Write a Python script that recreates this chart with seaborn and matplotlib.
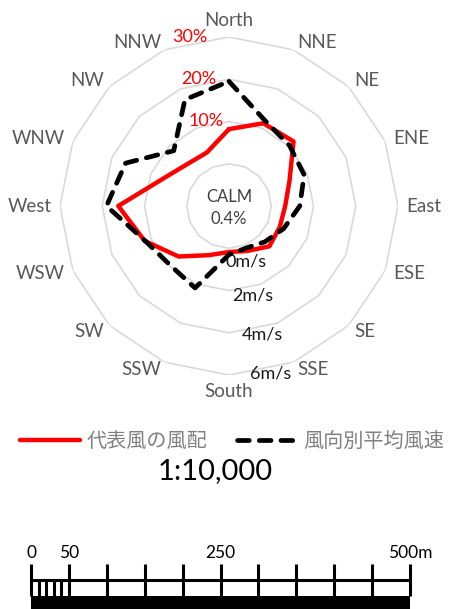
import numpy as np
import pandas as pd
import matplotlib
matplotlib.use("Agg")
import matplotlib.pyplot as plt
import matplotlib.transforms as mtransforms
import seaborn as sns

# wind rose data (16 directions, clockwise from north)
directions = ['North', 'NNE', 'NE', 'ENE', 'East', 'ESE', 'SE', 'SSE',
              'South', 'SSW', 'SW', 'WSW', 'West', 'WNW', 'NW', 'NNW']
freq_pct = [8.2, 11.2, 11.6, 5.5, 3.3, 3.0, 3.5, 1.5,
            0.9, 2.6, 6.9, 11.6, 16.2, 6.9, 4.0, 3.7]
speed_ms = [3.9, 2.4, 2.05, 1.85, 1.35, 0.8, 0.4, 0.15,
            0.3, 2.2, 1.95, 2.3, 3.8, 3.3, 1.7, 3.45]
pct_ticks = [10, 20, 30]
pct_labels = ['10%', '20%', '30%']
speed_ticks = [0, 2, 4, 6]
speed_labels = ['0m/s', '2m/s', '4m/s', '6m/s']
calm_pct = 0.4
legend_labels = ['代表風の風配', '風向別平均風速']
scale_text = '1:10,000'
scale_major = [0, 50, 100, 150, 200, 250, 300, 350, 400, 450, 500]
scale_minor = [10, 20, 30, 40]
scale_label_pos = [0, 50, 250, 500]
scale_label_txt = ['0', '50', '250', '500m']

sns.set_theme(style='white')
plt.rcParams['font.family'] = ['Lato', 'Noto Sans CJK JP', 'DejaVu Sans']

W, H = 451, 609
fig = plt.figure(figsize=(W / 100, H / 100), dpi=100)
fig.patch.set_facecolor('white')

cx, cy, R = 229, 206, 169
ax = fig.add_axes([(cx - R) / W, (H - cy - R) / H, 2 * R / W, 2 * R / H], projection='polar')
ax.set_theta_zero_location('N')
ax.set_theta_direction(-1)
ax.set_ylim(-10, 30)
ax.grid(False)
ax.set_xticks([])
ax.set_yticks([])
ax.spines['polar'].set_visible(False)
ax.patch.set_alpha(0)

theta = np.arange(len(directions)) * 2 * np.pi / len(directions)
theta_closed = np.r_[theta, 2 * np.pi]

# polygon grid rings
for r in [0] + pct_ticks:
    ax.plot(theta_closed, [r] * len(theta_closed), color='#d9d9d9', lw=1.2, zorder=1)

spd_scale = 10 / 2  # 2 m/s per ring of 10 %
df = pd.DataFrame({'theta': theta_closed,
                   'freq': np.r_[freq_pct, freq_pct[0]],
                   'speed': np.r_[speed_ms, speed_ms[0]] * spd_scale})

sns.lineplot(data=df, x='theta', y='freq', sort=False, estimator=None, ax=ax,
             color='#ff0000', lw=3.2, zorder=3, label=legend_labels[0])
sns.lineplot(data=df, x='theta', y='speed', sort=False, estimator=None, ax=ax,
             color='black', lw=3.4, zorder=4, label=legend_labels[1],
             linestyle=(0, (2.5, 2.1)), dash_capstyle='round')
handles, labels = ax.get_legend_handles_labels()
ax.get_legend().remove()
ax.set_xlabel('')
ax.set_ylabel('')

# direction labels
lab_r = 32.0
for t, name in zip(theta, directions):
    s, c = np.sin(t), np.cos(t)
    ha = 'left' if s > 0.1 else ('right' if s < -0.1 else 'center')
    va = 'bottom' if c > 0.95 else ('top' if c < -0.95 else 'center')
    ax.text(t, lab_r, name, ha=ha, va=va, fontsize=13.5, color='#595959')

# percent labels
for r, txt, dx in zip(pct_ticks, pct_labels, [-5, -13, -22]):
    tr = ax.transData + mtransforms.ScaledTranslation(dx / 100, 0, fig.dpi_scale_trans)
    ax.text(0, r, txt, transform=tr, ha='right', va='center', fontsize=13, color='#ff0000')

# speed labels
spd_lab_pos = [(163.0, 3.7), (165.1, 12.0), (165.6, 21.4), (166.1, 30.9)]
for (a, r), txt in zip(spd_lab_pos, speed_labels):
    ax.text(np.deg2rad(a), r, txt, ha='center', va='center', fontsize=13, color='#1a1a1a')

fig.text(cx / W, 1 - 197.5 / H, 'CALM', ha='center', va='center', fontsize=12, color='#404040')
fig.text(cx / W, 1 - 219 / H, f'{calm_pct}%', ha='center', va='center', fontsize=12, color='#404040')

fig.legend(handles, labels, loc='center', bbox_to_anchor=(232 / W, 1 - 440 / H), ncol=2,
           frameon=False, fontsize=14.5, handlelength=3.0, handletextpad=0.3,
           columnspacing=1.5, labelcolor='#808080', borderaxespad=0, borderpad=0)

fig.text(215 / W, 1 - 471 / H, scale_text, ha='center', va='center', fontsize=21, color='black')

# scale bar
ax2 = fig.add_axes([31 / W, 0, 379 / W, 70 / H])
ax2.set_xlim(0, 500)
ax2.set_ylim(0, 70)
ax2.axis('off')
ax2.fill_between([0, 500], 0, 13.5, color='black', lw=0)
ax2.hlines(29, 0, 500, color='black', lw=2.2, clip_on=False)
ax2.vlines(scale_major, 13.5, 45, color='black', lw=2.2, clip_on=False)
ax2.vlines(scale_minor, 13.5, 29, color='black', lw=2.2, clip_on=False)
for x, txt in zip(scale_label_pos, scale_label_txt):
    ax2.text(x, 56, txt, ha='center', va='center', fontsize=12.5, color='black')

fig.savefig('out.png', dpi=100, facecolor='white')
